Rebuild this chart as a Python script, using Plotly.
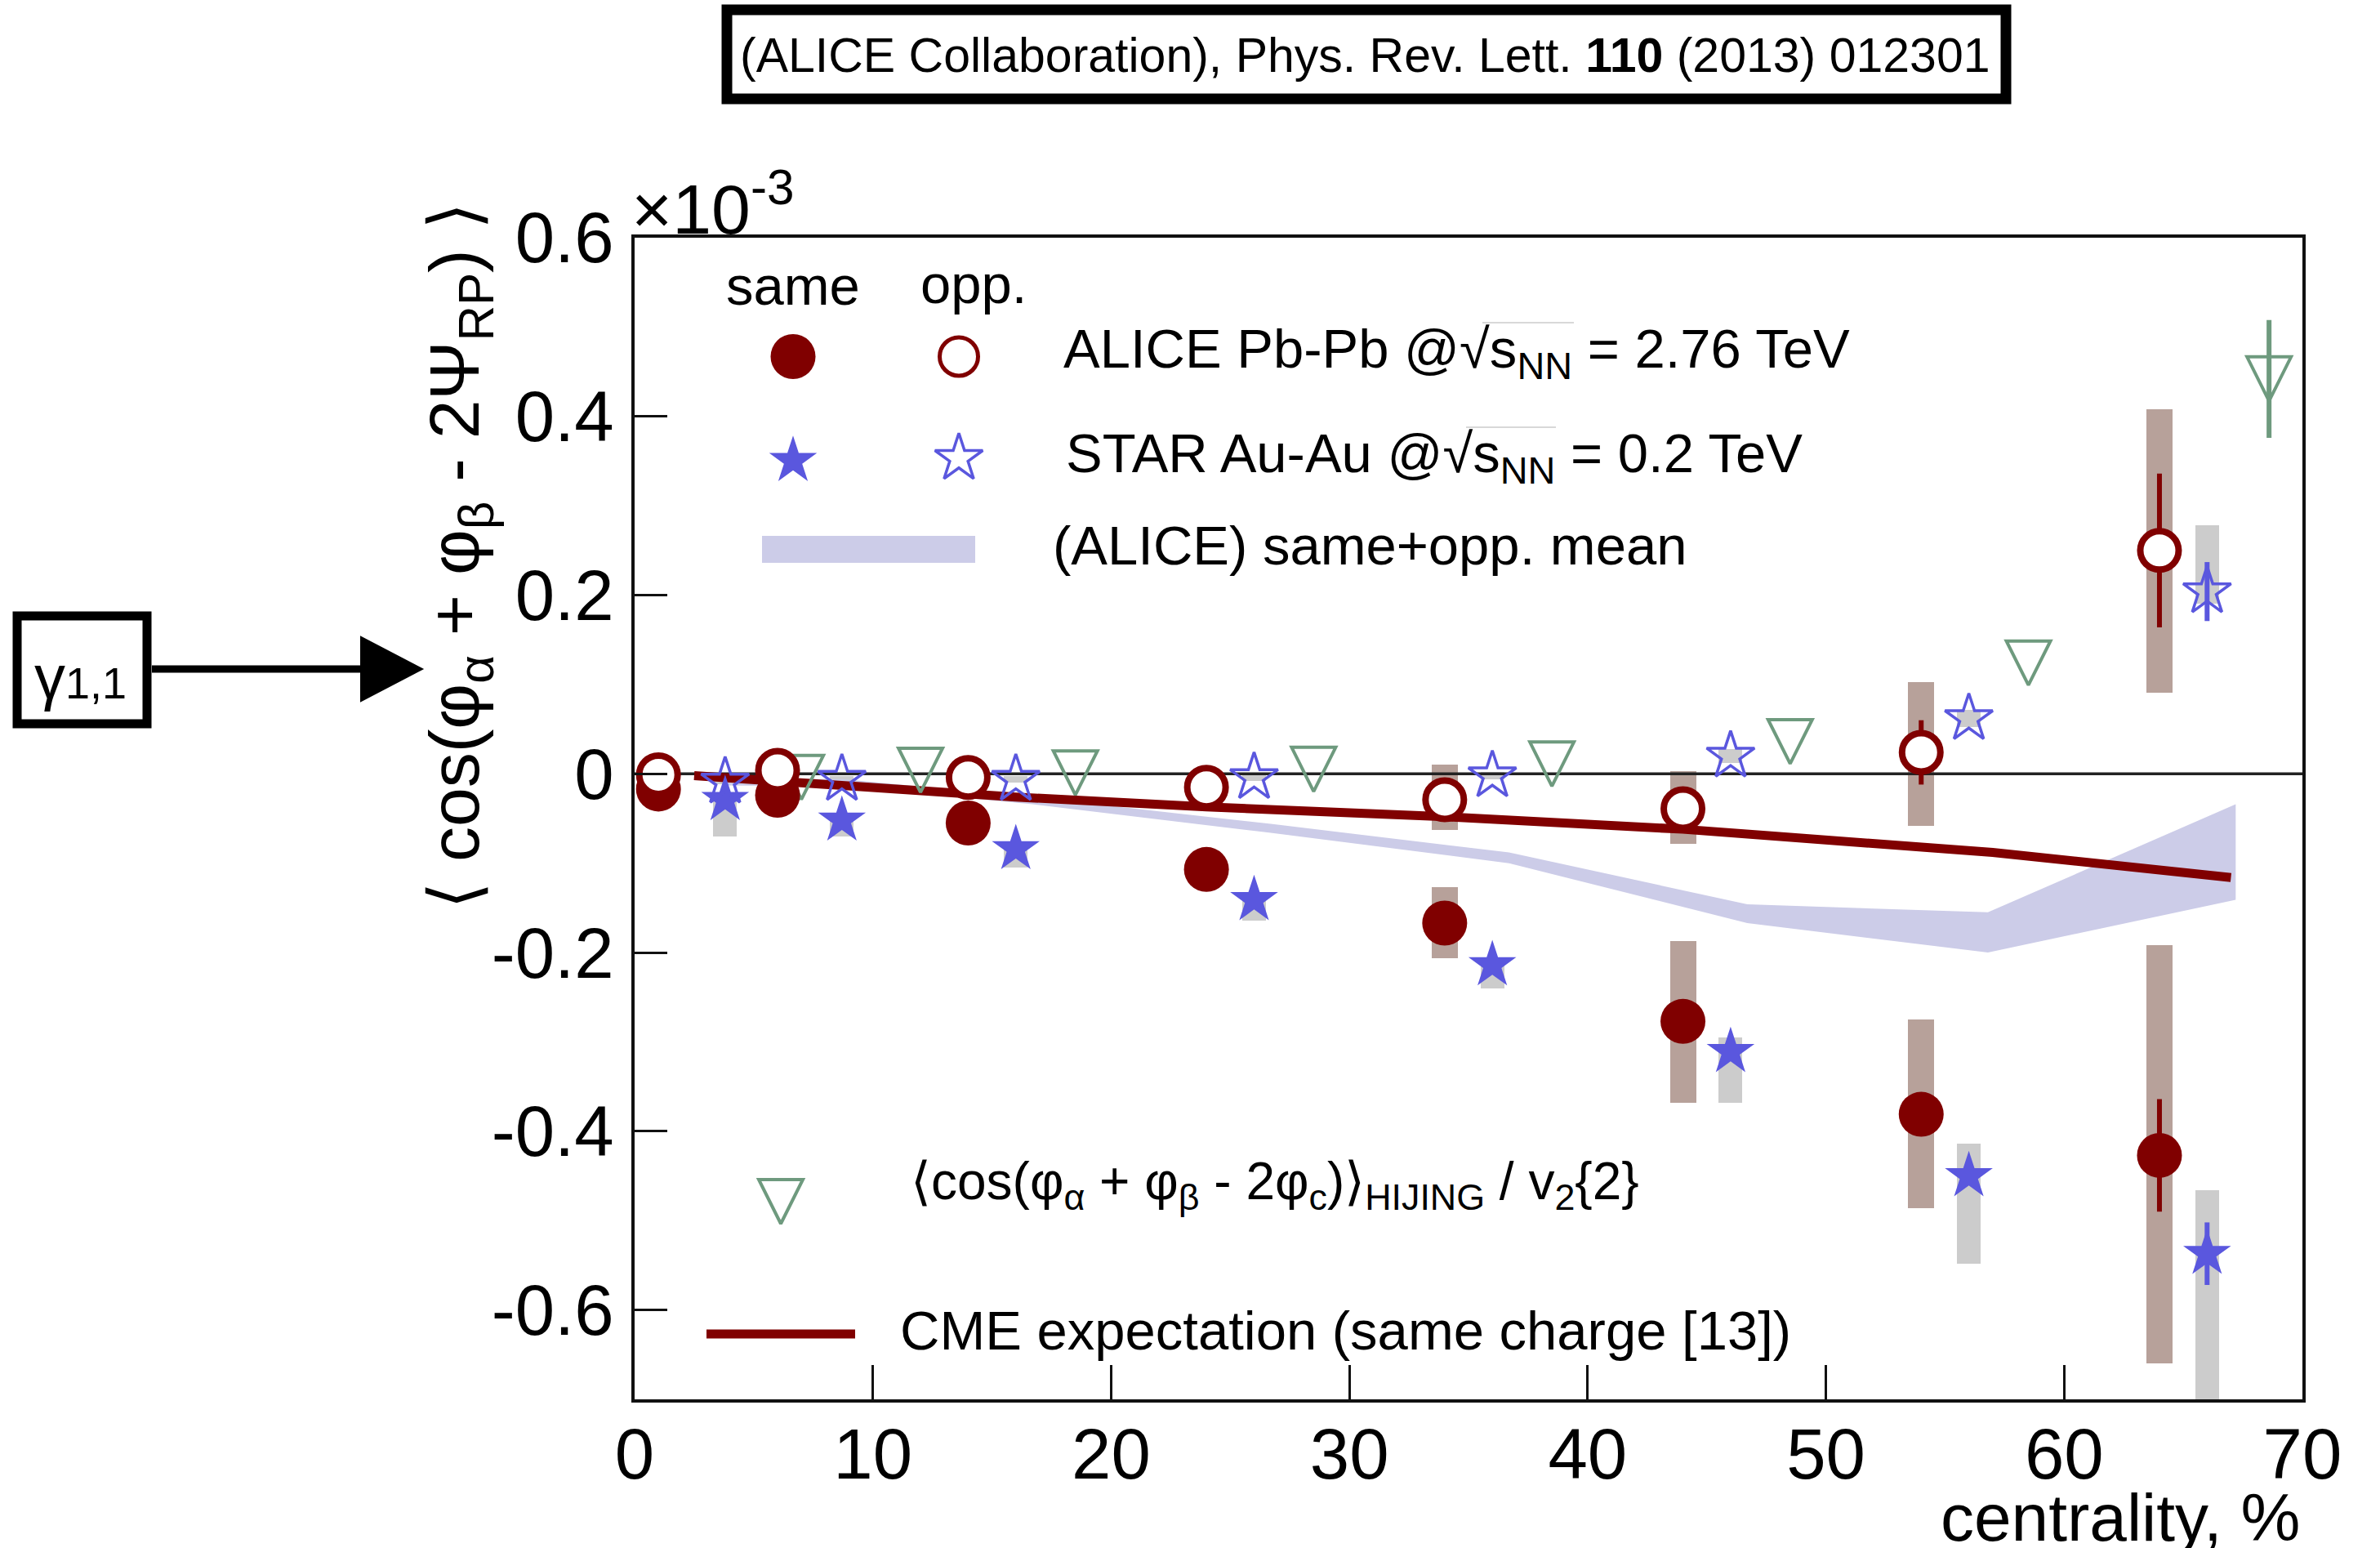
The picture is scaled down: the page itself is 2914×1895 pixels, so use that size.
import plotly.graph_objects as go

# ---------------- data ----------------
alice_x = [1, 6, 14, 24, 34, 44, 54, 64]
alice_same = [-0.017, -0.024, -0.055, -0.107, -0.167, -0.277, -0.381, -0.427]
alice_same_stat = [0.004, 0.004, 0.005, 0.006, 0.008, 0.012, 0.020, 0.063]
alice_same_sys_lo = [-0.027, -0.034, -0.067, -0.120, -0.206, -0.368, -0.486, -0.660]
alice_same_sys_hi = [-0.007, -0.014, -0.043, -0.094, -0.127, -0.187, -0.275, -0.192]
alice_opp = [-0.001, 0.004, -0.004, -0.015, -0.029, -0.039, 0.024, 0.250]
alice_opp_stat = [0.004, 0.004, 0.005, 0.006, 0.008, 0.012, 0.036, 0.086]
alice_opp_sys_lo = [-0.011, -0.006, -0.014, -0.025, -0.063, -0.078, -0.058, 0.091]
alice_opp_sys_hi = [0.009, 0.014, 0.006, -0.005, 0.010, 0.003, 0.103, 0.408]

star_x = [3.8, 8.7, 16, 26, 36, 46, 56, 66]
star_same = [-0.029, -0.052, -0.084, -0.141, -0.214, -0.311, -0.450, -0.537]
star_same_stat = [0, 0, 0, 0, 0, 0, 0, 0.035]
star_same_sys_lo = [-0.070, -0.070, -0.105, -0.164, -0.240, -0.368, -0.548, -0.750]
star_same_sys_hi = [-0.025, -0.045, -0.080, -0.135, -0.205, -0.295, -0.414, -0.466]
star_opp = [-0.009, -0.006, -0.006, -0.004, -0.002, 0.020, 0.062, 0.204]
star_opp_stat = [0, 0, 0, 0, 0, 0, 0, 0.033]
star_opp_sys_lo = [-0.012, -0.010, -0.010, -0.008, -0.006, 0.012, 0.052, 0.190]
star_opp_sys_hi = [-0.006, -0.002, -0.002, 0.000, 0.002, 0.028, 0.072, 0.278]

hijing_x = [7.0, 12.0, 18.5, 28.5, 38.5, 48.5, 58.5, 68.6]
hijing_y = [-0.004, 0.004, 0.001, 0.005, 0.011, 0.036, 0.124, 0.442]
hijing_err = [0, 0, 0, 0, 0, 0, 0, 0.066]

band_x = [3.7, 8.7, 16.7, 26.7, 36.7, 46.7, 56.8, 67.2]
band_lo = [-0.013, -0.014, -0.034, -0.066, -0.100, -0.167, -0.200, -0.141]
band_hi = [-0.005, -0.006, -0.026, -0.056, -0.088, -0.146, -0.155, -0.034]

cme_x = [2.5, 10, 16, 24, 34, 44, 50, 57, 67]
cme_y = [-0.002, -0.015, -0.026, -0.037, -0.048, -0.062, -0.075, -0.088, -0.116]

x_range = [0, 70]
y_range = [-0.7, 0.6]
x_ticks = [0, 10, 20, 30, 40, 50, 60, 70]
y_ticks = [0.6, 0.4, 0.2, 0, -0.2, -0.4, -0.6]
y_tick_text = ["0.6", "0.4", "0.2", "0", "-0.2", "-0.4", "-0.6"]

# ---------------- style ----------------
W, H = 2914, 1895
L, R, T, B = 777, 95, 291, 182
FONT = "Liberation Sans, Arial, Helvetica, sans-serif"
DARKRED = "#800000"
BLUE = "#5a57de"
ALICE_BOX = "#b7a19a"
STAR_BOX = "#cccccc"
BAND = "#cccce8"
GREEN = "#6e9a7e"


def px(xf):
    return (xf - L) / (W - L - R)


def py(yf):
    return (H - B - yf) / (H - T - B)


def diff(hi, lo):
    return [h - l for h, l in zip(hi, lo)]


fig = go.Figure()

# systematic boxes
for xs, lo, hi, col, wd in [
    (alice_x, alice_same_sys_lo, alice_same_sys_hi, ALICE_BOX, 1.1),
    (alice_x, alice_opp_sys_lo, alice_opp_sys_hi, ALICE_BOX, 1.1),
    (star_x, star_same_sys_lo, star_same_sys_hi, STAR_BOX, 1.0),
    (star_x, star_opp_sys_lo, star_opp_sys_hi, STAR_BOX, 1.0),
]:
    fig.add_trace(go.Bar(x=xs, y=diff(hi, lo), base=lo, width=wd,
                         marker=dict(color=col, line=dict(width=0)),
                         showlegend=False, hoverinfo="skip"))

# band
fig.add_trace(go.Scatter(x=band_x + band_x[::-1], y=band_hi + band_lo[::-1],
                         fill="toself", fillcolor=BAND, mode="lines",
                         line=dict(width=0, color=BAND), showlegend=False,
                         hoverinfo="skip"))
# zero line
fig.add_trace(go.Scatter(x=x_range, y=[0, 0], mode="lines",
                         line=dict(color="#222", width=3.5), showlegend=False,
                         hoverinfo="skip"))
# CME expectation
fig.add_trace(go.Scatter(x=cme_x, y=cme_y, mode="lines",
                         line=dict(color=DARKRED, width=11), showlegend=False))

# HIJING
fig.add_trace(go.Scatter(
    x=hijing_x, y=hijing_y, mode="markers",
    marker=dict(symbol="arrow-down-open", size=54, standoff=27, color=GREEN,
                line=dict(width=4, color=GREEN)),
    error_y=dict(type="data", array=hijing_err, thickness=6, width=0, color=GREEN),
    showlegend=False))
# STAR
fig.add_trace(go.Scatter(
    x=star_x, y=star_same, mode="markers",
    marker=dict(symbol="star", size=44, color=BLUE, line=dict(width=0)),
    error_y=dict(type="data", array=star_same_stat, thickness=6, width=0, color=BLUE),
    showlegend=False))
fig.add_trace(go.Scatter(
    x=star_x, y=star_opp, mode="markers",
    marker=dict(symbol="star-open", size=44, color=BLUE, line=dict(width=3.5, color=BLUE)),
    error_y=dict(type="data", array=star_opp_stat, thickness=6, width=0, color=BLUE),
    showlegend=False))
# ALICE
fig.add_trace(go.Scatter(
    x=alice_x, y=alice_same, mode="markers",
    marker=dict(symbol="circle", size=55, color=DARKRED, line=dict(width=0)),
    error_y=dict(type="data", array=alice_same_stat, thickness=6, width=0, color=DARKRED),
    showlegend=False))
fig.add_trace(go.Scatter(
    x=alice_x, y=alice_opp, mode="markers",
    marker=dict(symbol="circle", size=47, color="white", line=dict(width=8, color=DARKRED)),
    error_y=dict(type="data", array=alice_opp_stat, thickness=6, width=0, color=DARKRED),
    showlegend=False))

# ---------------- legend symbols (overlay axes in plot-fraction units) ----------------
leg = dict(xaxis="x2", yaxis="y2", mode="markers", showlegend=False, hoverinfo="skip")
fig.add_trace(go.Scatter(x=[px(971)], y=[py(436.5)],
                         marker=dict(symbol="circle", size=55, color=DARKRED), **leg))
fig.add_trace(go.Scatter(x=[px(1174)], y=[py(436.5)],
                         marker=dict(symbol="circle", size=47, color="white",
                                     line=dict(width=5, color=DARKRED)), **leg))
fig.add_trace(go.Scatter(x=[px(971)], y=[py(564)],
                         marker=dict(symbol="star", size=44, color=BLUE), **leg))
fig.add_trace(go.Scatter(x=[px(1174)], y=[py(561)],
                         marker=dict(symbol="star-open", size=44, color=BLUE,
                                     line=dict(width=3.5, color=BLUE)), **leg))
fig.add_trace(go.Scatter(x=[px(956)], y=[py(1471)],
                         marker=dict(symbol="arrow-down-open", size=54, standoff=27,
                                     color=GREEN, line=dict(width=4, color=GREEN)), **leg))

axis_common = dict(showgrid=False, zeroline=False, showline=True, linecolor="#111",
                   linewidth=4, mirror=True, ticks="inside", tickcolor="#111",
                   tickwidth=3, tickfont=dict(family=FONT, size=87, color="black"))

shapes = [
    # legend band sample
    dict(type="rect", xref="paper", yref="paper", x0=px(933), x1=px(1194),
         y0=py(689), y1=py(656), fillcolor=BAND, line=dict(width=0)),
    # legend CME line sample
    dict(type="line", xref="paper", yref="paper", x0=px(865), x1=px(1047),
         y0=py(1633), y1=py(1633), line=dict(color=DARKRED, width=11)),
    # sqrt overbars
    dict(type="line", xref="paper", yref="paper", x0=px(1815), x1=px(1927),
         y0=py(395), y1=py(395), line=dict(color="#d8d8d8", width=2)),
    dict(type="line", xref="paper", yref="paper", x0=px(1795), x1=px(1905),
         y0=py(523), y1=py(523), line=dict(color="#d8d8d8", width=2)),
    # reference box at top
    dict(type="rect", xref="paper", yref="paper", x0=px(890), x1=px(2456),
         y0=py(121), y1=py(12), line=dict(color="black", width=13)),
    # gamma box
    dict(type="rect", xref="paper", yref="paper", x0=px(21), x1=px(180),
         y0=py(886), y1=py(754), line=dict(color="black", width=11)),
    # arrow shaft
    dict(type="line", xref="paper", yref="paper", x0=px(186), x1=px(448),
         y0=py(819), y1=py(819), line=dict(color="black", width=9)),
    # arrow head
    dict(type="path", xref="paper", yref="paper",
         path=f"M {px(442)},{py(780)} L {px(517)},{py(819)} L {px(442)},{py(858)} Z",
         fillcolor="black", line=dict(color="black", width=2)),
]


def ann(text, x, y, size, xanchor="left", yanchor="middle", angle=0):
    return dict(text=text, x=x, y=y, xref="paper", yref="paper", showarrow=False,
                xanchor=xanchor, yanchor=yanchor, textangle=angle,
                font=dict(family=FONT, size=size, color="black"))


annotations = [
    ann("(ALICE Collaboration), Phys. Rev. Lett. <b>110</b> (2013) 012301",
        px(1671), py(68), 59, xanchor="center"),
    ann("γ<span style='font-size:54px'>1,1</span>", px(98), py(828), 76, xanchor="center"),
    ann("×10<sup>-3</sup>", px(771), py(250), 86),
    ann("⟨ cos(φ<sub>α</sub> + φ<sub>β</sub> - 2Ψ<sub>RP</sub>) ⟩", px(562), py(680), 86,
        xanchor="center", angle=-90),
    ann("centrality, %", 1.0, py(1858), 82, xanchor="right"),
    ann("same", px(971), py(349), 67, xanchor="center"),
    ann("opp.", px(1192), py(347), 67, xanchor="center"),
    ann("ALICE Pb-Pb @√s<sub>NN</sub> = 2.76 TeV", px(1300), py(431), 67),
    ann("STAR Au-Au @√s<sub>NN</sub> = 0.2 TeV", px(1303), py(559), 67),
    ann("(ALICE) same+opp. mean", px(1287), py(667), 67),
    ann("⟨cos(φ<sub>α</sub> + φ<sub>β</sub> - 2φ<sub>c</sub>)⟩<sub>HIJING</sub> / v<sub>2</sub>{2}",
        px(1113), py(1450), 64),
    ann("CME expectation (same charge [13])", px(1100), py(1628), 67),
]

fig.update_layout(
    width=W, height=H,
    margin=dict(l=L, r=R, t=T, b=B, pad=0),
    paper_bgcolor="white", plot_bgcolor="white",
    barmode="overlay", bargap=0,
    font=dict(family=FONT, color="black"),
    xaxis=dict(range=x_range, tickvals=x_ticks, ticklen=42, ticklabelstandoff=-11,
               **axis_common),
    yaxis=dict(range=y_range, tickvals=y_ticks, ticktext=y_tick_text, ticklen=40,
               ticklabelstandoff=4, **axis_common),
    xaxis2=dict(overlaying="x", range=[0, 1], visible=False),
    yaxis2=dict(overlaying="y", range=[0, 1], visible=False),
    shapes=shapes,
    annotations=annotations,
    showlegend=False,
)

fig.write_html("out.html")
